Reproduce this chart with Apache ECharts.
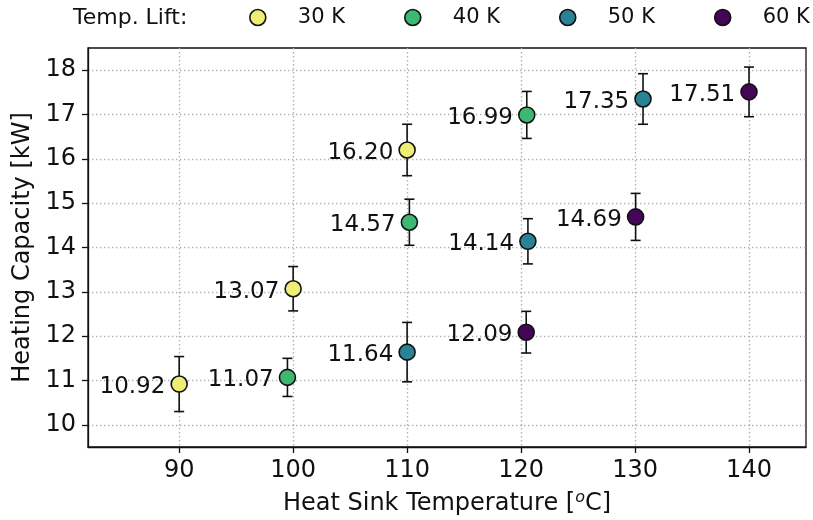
<!DOCTYPE html>
<html>
<head>
<meta charset="utf-8">
<script src="https://cdn.jsdelivr.net/npm/echarts@6/dist/echarts.min.js"></script>
<style>
  html, body { margin: 0; padding: 0; background: #ffffff; }
  #chart { width: 813px; height: 520px; }
</style>
</head>
<body>
<div id="chart"></div>
<script>
// Heating capacity vs. heat sink temperature, grouped by temperature lift.
const liftNames = ['30 K', '40 K', '50 K', '60 K'];

const lift30Temp = [90, 100, 110];
const lift30Cap  = [10.92, 13.07, 16.20];
const lift30Err  = [0.62, 0.50, 0.58];

const lift40Temp = [99.5, 110.2, 120.5];
const lift40Cap  = [11.07, 14.57, 16.99];
const lift40Err  = [0.43, 0.52, 0.53];

const lift50Temp = [110, 120.6, 130.7];
const lift50Cap  = [11.64, 14.14, 17.35];
const lift50Err  = [0.67, 0.51, 0.57];

const lift60Temp = [120.45, 130.05, 140];
const lift60Cap  = [12.09, 14.69, 17.51];
const lift60Err  = [0.47, 0.53, 0.56];

const tempTicks = [90, 100, 110, 120, 130, 140];
const capTicks  = [10, 11, 12, 13, 14, 15, 16, 17, 18];

const groups = [
  { name: liftNames[0], temp: lift30Temp, cap: lift30Cap, err: lift30Err, color: '#eeee75' },
  { name: liftNames[1], temp: lift40Temp, cap: lift40Cap, err: lift40Err, color: '#3cb873' },
  { name: liftNames[2], temp: lift50Temp, cap: lift50Cap, err: lift50Err, color: '#2a8394' },
  { name: liftNames[3], temp: lift60Temp, cap: lift60Cap, err: lift60Err, color: '#45065a' }
];

const FONT = 'DejaVu Sans';
const INK = '#111111';
const gridLine = { color: '#b3b3b3', width: 1.4, type: [1.4, 2.6] };

function renderErrorBar(params, api) {
  const x = api.value(0);
  const top = api.coord([x, api.value(2)]);
  const bot = api.coord([x, api.value(1)]);
  const cap = 5;
  const style = { stroke: INK, lineWidth: 1.6 };
  return {
    type: 'group',
    children: [
      { type: 'line', shape: { x1: top[0], y1: top[1], x2: bot[0], y2: bot[1] }, style },
      { type: 'line', shape: { x1: top[0] - cap, y1: top[1], x2: top[0] + cap, y2: top[1] }, style },
      { type: 'line', shape: { x1: bot[0] - cap, y1: bot[1], x2: bot[0] + cap, y2: bot[1] }, style }
    ]
  };
}

const series = [];
groups.forEach((g) => {
  series.push({
    name: 'err-' + g.name,
    type: 'custom',
    renderItem: renderErrorBar,
    data: g.temp.map((t, i) => [t, g.cap[i] - g.err[i], g.cap[i] + g.err[i]]),
    encode: { x: 0, y: [1, 2] },
    z: 2,
    silent: true
  });
  series.push({
    name: g.name,
    type: 'scatter',
    data: g.temp.map((t, i) => [t, g.cap[i]]),
    symbol: 'circle',
    symbolSize: 16,
    itemStyle: { color: g.color, borderColor: INK, borderWidth: 1.6, opacity: 1 },
    label: {
      show: true,
      position: 'left',
      distance: 5,
      offset: [0, 3],
      formatter: p => p.value[1].toFixed(2),
      fontFamily: FONT,
      fontSize: 23,
      color: INK
    },
    z: 3
  });
});

const chart = echarts.init(document.getElementById('chart'), null, { renderer: 'canvas' });
chart.setOption({
  animation: false,
  backgroundColor: '#ffffff',
  textStyle: { fontFamily: FONT },
  title: {
    text: 'Temp. Lift:',
    left: 73,
    top: 7,
    padding: 0,
    textStyle: { fontFamily: FONT, fontSize: 22, fontWeight: 'normal', color: INK }
  },
  legend: {
    data: liftNames,
    left: 249,
    top: 7,
    width: 700,
    padding: 0,
    icon: 'circle',
    itemWidth: 70,
    itemHeight: 16,
    itemGap: 59,
    itemStyle: { borderColor: INK, borderWidth: 1.6 },
    textStyle: { fontFamily: FONT, fontSize: 21, color: INK }
  },
  grid: {
    left: 88,
    right: 7,
    top: 48,
    bottom: 73,
    show: true,
    borderColor: INK,
    borderWidth: 1.3,
    containLabel: false,
    outerBoundsMode: 'none'
  },
  xAxis: {
    type: 'value',
    min: 82,
    max: 145,
    name: 'Heat Sink Temperature [{sup|o}C]',
    nameLocation: 'middle',
    nameGap: 43,
    nameTextStyle: {
      fontFamily: FONT, fontSize: 24, color: INK, lineHeight: 28,
      rich: { sup: { fontFamily: FONT, fontSize: 16, fontStyle: 'italic', color: INK, verticalAlign: 'top', lineHeight: 17 } }
    },
    axisLine: { show: true, onZero: false, lineStyle: { color: INK, width: 1.3 } },
    axisTick: { show: true, customValues: tempTicks, length: 6, lineStyle: { color: INK, width: 1.3 } },
    axisLabel: { customValues: tempTicks, fontFamily: FONT, fontSize: 24, color: INK, margin: 12 },
    splitLine: { show: true, lineStyle: gridLine }
  },
  yAxis: {
    type: 'value',
    min: 9.5,
    max: 18.5,
    name: 'Heating Capacity [kW]',
    nameLocation: 'middle',
    nameGap: 53,
    nameTextStyle: { fontFamily: FONT, fontSize: 24, color: INK },
    axisLine: { show: true, onZero: false, lineStyle: { color: INK, width: 1.3 } },
    axisTick: { show: true, customValues: capTicks, length: 6, lineStyle: { color: INK, width: 1.3 } },
    axisLabel: { customValues: capTicks, fontFamily: FONT, fontSize: 24, color: INK, margin: 12 },
    splitLine: { show: true, lineStyle: gridLine }
  },
  series: series
});
</script>
</body>
</html>
